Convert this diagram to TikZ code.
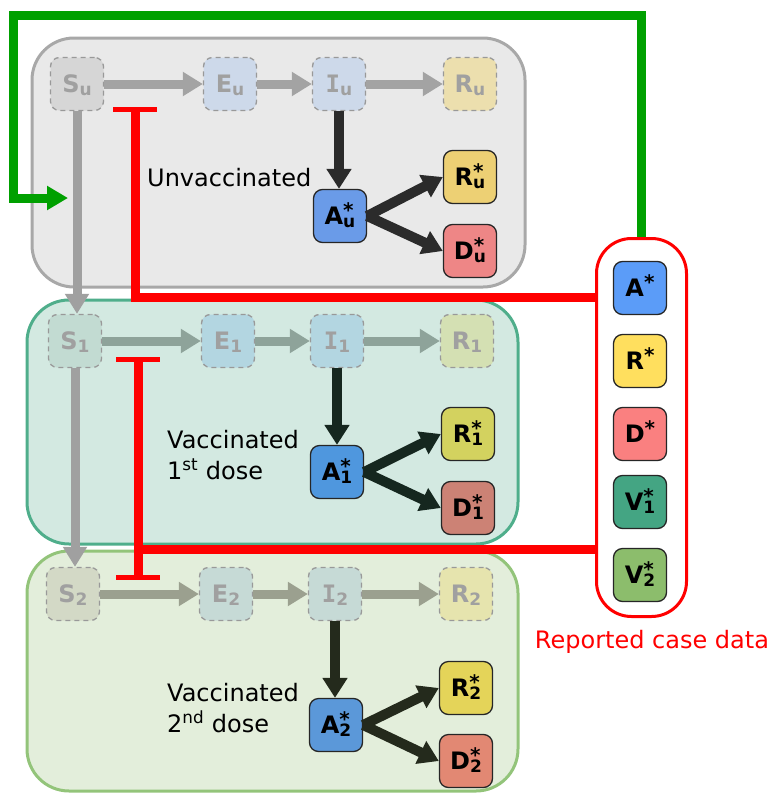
\documentclass[tikz,border=0pt]{standalone}
\usepackage{fontspec}
\setmainfont{DejaVu Sans}
\newfontfamily\monoI{DejaVu Sans Mono}
\usetikzlibrary{arrows.meta}

% panel colours
\definecolor{panUfill}{HTML}{E9E9E9}\definecolor{panUdraw}{HTML}{A8A8A8}
\definecolor{panAfill}{HTML}{D3E9E1}\definecolor{panAdraw}{HTML}{4FAE8B}
\definecolor{panBfill}{HTML}{E3EEDB}\definecolor{panBdraw}{HTML}{93C47A}
% faded compartments
\definecolor{gSu}{HTML}{D6D6D6}\definecolor{gEu}{HTML}{CDD9EA}\definecolor{gRu}{HTML}{ECDFAE}
\definecolor{gSa}{HTML}{C2DBD2}\definecolor{gEa}{HTML}{B3D6E1}\definecolor{gRa}{HTML}{D4E0B3}
\definecolor{gSb}{HTML}{D3D9C6}\definecolor{gEb}{HTML}{C6DAD6}\definecolor{gRb}{HTML}{E6E4AE}
\definecolor{ghostText}{HTML}{A0A0A0}\definecolor{ghostLine}{HTML}{999999}
% observed compartments
\definecolor{cAu}{HTML}{6A9BE8}\definecolor{cRu}{HTML}{EDD074}\definecolor{cDu}{HTML}{EE8686}
\definecolor{cAa}{HTML}{4F97DE}\definecolor{cRa}{HTML}{D3D25F}\definecolor{cDa}{HTML}{CC8275}
\definecolor{cAb}{HTML}{5B98D9}\definecolor{cRb}{HTML}{E4D459}\definecolor{cDb}{HTML}{E28873}
\definecolor{lA}{HTML}{5B9CF8}\definecolor{lR}{HTML}{FFDF5E}\definecolor{lD}{HTML}{FA8080}
\definecolor{lVa}{HTML}{44A583}\definecolor{lVb}{HTML}{8CBD6C}
% arrows
\definecolor{arU}{HTML}{A3A3A3}\definecolor{arA}{HTML}{8EA39A}\definecolor{arB}{HTML}{9BA08F}
\definecolor{arV}{HTML}{A0A0A0}
\definecolor{bkU}{HTML}{2B2B2B}\definecolor{bkA}{HTML}{15271F}\definecolor{bkB}{HTML}{242A1C}
\definecolor{feedRed}{HTML}{FF0000}\definecolor{feedGreen}{HTML}{00A000}

% sub/superscript stacked on the right of a compartment letter
\newcommand\subsup[2]{\ooalign{\raisebox{-3pt}{\fontsize{17}{17}\selectfont #1}\cr\raisebox{7pt}{\fontsize{20}{20}\selectfont #2}\cr}}

\begin{document}
\begin{tikzpicture}[x=1pt,y=-1pt,
  comp/.style={rounded corners=9pt, minimum width=53pt, minimum height=53pt,
    inner sep=0pt, line width=1.3pt, draw=black!85,
    font=\fontsize{24}{24}\selectfont\bfseries},
  ghost/.style={comp, draw=ghostLine, dash pattern=on 5pt off 4pt, text=ghostText},
  panel/.style={rounded corners=42pt, line width=3pt},
  garr/.style={draw=#1, line width=9pt, -{Triangle[length=20pt,width=23pt]}},
  barr/.style={draw=#1, line width=10pt, -{Triangle[length=20pt,width=24pt]}},
  redline/.style={draw=feedRed, line width=9pt},
  redbar/.style={draw=feedRed, line width=5pt},
  label/.style={font=\fontsize{24}{31}\selectfont, align=left, inner sep=0pt}]
\useasboundingbox (0,0) rectangle (776,793);

% population panels
\draw[panel, fill=panUfill, draw=panUdraw] (32,38) rectangle (525,287);
\draw[panel, fill=panAfill, draw=panAdraw] (27,300) rectangle (518,544);
\draw[panel, fill=panBfill, draw=panBdraw] (27,551) rectangle (518,791);

% unvaccinated
\node[ghost, fill=gSu] (Su) at (77,84) {S\subsup{u}{}};
\node[ghost, fill=gEu] (Eu) at (230,84) {E\subsup{u}{}};
\node[ghost, fill=gEu] (Iu) at (339,84) {{\monoI I}\subsup{u}{}};
\node[ghost, fill=gRu] (Ru) at (470,84) {R\subsup{u}{}};
\node[comp, fill=cAu] (Au) at (340,216) {A\subsup{u}{*}};
\node[comp, fill=cRu] (RSu) at (470,177) {R\subsup{u}{*}};
\node[comp, fill=cDu] (DSu) at (470,251) {D\subsup{u}{*}};
\node[label, anchor=base west] (labU) at (147,186) {Unvaccinated};

% first dose
\node[ghost, fill=gSa] (Sa) at (75,341) {S\subsup{1}{}};
\node[ghost, fill=gEa] (Ea) at (228,341) {E\subsup{1}{}};
\node[ghost, fill=gEa] (Ia) at (337,341) {{\monoI I}\subsup{1}{}};
\node[ghost, fill=gRa] (Ra) at (467,341) {R\subsup{1}{}};
\node[comp, fill=cAa] (Aa) at (337,472) {A\subsup{1}{*}};
\node[comp, fill=cRa] (RSa) at (468,434) {R\subsup{1}{*}};
\node[comp, fill=cDa] (DSa) at (468,508) {D\subsup{1}{*}};
\node[label, anchor=west] (labA) at (167,455) {Vaccinated\\1\textsuperscript{st} dose};

% second dose
\node[ghost, fill=gSb] (Sb) at (73,594) {S\subsup{2}{}};
\node[ghost, fill=gEb] (Eb) at (226,594) {E\subsup{2}{}};
\node[ghost, fill=gEb] (Ib) at (335,594) {{\monoI I}\subsup{2}{}};
\node[ghost, fill=gRb] (Rb) at (466,594) {R\subsup{2}{}};
\node[comp, fill=cAb] (Ab) at (336,725) {A\subsup{2}{*}};
\node[comp, fill=cRb] (RSb) at (466,688) {R\subsup{2}{*}};
\node[comp, fill=cDb] (DSb) at (466,761) {D\subsup{2}{*}};
\node[label, anchor=west] (labB) at (167,708) {Vaccinated\\2\textsuperscript{nd} dose};

% reported data
\node[draw=feedRed, line width=3pt, fill=white, rounded corners=35pt,
      minimum width=90pt, minimum height=378pt] (rep) at (641.5,427.5) {};
\node[comp, fill=lA] (LA) at (640,288) {A\subsup{}{*}};
\node[comp, fill=lR] (LR) at (640,361) {R\subsup{}{*}};
\node[comp, fill=lD] (LD) at (640,434) {D\subsup{}{*}};
\node[comp, fill=lVa] (LVa) at (640,502) {V\subsup{1}{*}};
\node[comp, fill=lVb] (LVb) at (640,575) {V\subsup{2}{*}};
\node[font=\fontsize{24}{24}\selectfont, text=feedRed, anchor=base, inner sep=0pt] (repLab) at (652,648) {Reported case data};

% transitions (unobserved)
\draw[garr=arU] (Su) -- (Eu);
\draw[garr=arU] (Eu) -- (Iu);
\draw[garr=arU] (Iu) -- (Ru);
\draw[garr=arA] (Sa) -- (Ea);
\draw[garr=arA] (Ea) -- (Ia);
\draw[garr=arA] (Ia) -- (Ra);
\draw[garr=arB] (Sb) -- (Eb);
\draw[garr=arB] (Eb) -- (Ib);
\draw[garr=arB] (Ib) -- (Rb);
\draw[garr=arV] (Su.south) -- (Su.south |- Sa.north);
\draw[garr=arV] (Sa.south) -- (Sa.south |- Sb.north);

% transitions (observed)
\draw[barr=bkU] (Iu.south) -- (Iu.south |- Au.north);
\draw[barr=bkU] (Au.east) -- (RSu.west);
\draw[barr=bkU] (Au.east) -- (DSu.west);
\draw[barr=bkA] (Ia.south) -- (Ia.south |- Aa.north);
\draw[barr=bkA] (Aa.east) -- (RSa.west);
\draw[barr=bkA] (Aa.east) -- (DSa.west);
\draw[barr=bkB] (Ib.south) -- (Ib.south |- Ab.north);
\draw[barr=bkB] (Ab.east) -- (RSb.west);
\draw[barr=bkB] (Ab.east) -- (DSb.west);

% data constraints
\coordinate (t1) at (135,109);
\coordinate (t2a) at (138,359);
\coordinate (t2b) at (138,577);
\draw[redline] (t1) |- (rep.west |- 0,297);
\draw[redbar] ([xshift=-22pt]t1) -- ([xshift=22pt]t1);
\draw[redline] (t2a) -- (t2b);
\draw[redline] (t2b |- 0,549) -- (rep.west |- 0,549);
\draw[redbar] ([xshift=-22pt]t2a) -- ([xshift=22pt]t2a);
\draw[redbar] ([xshift=-22pt]t2b) -- ([xshift=22pt]t2b);

% feedback into the susceptible pool
\coordinate (gtip) at (68,198);
\draw[draw=feedGreen, line width=9pt, -{Triangle[length=21pt,width=23pt]}]
  (rep.north) |- (13,15) |- (gtip);
\end{tikzpicture}
\end{document}
